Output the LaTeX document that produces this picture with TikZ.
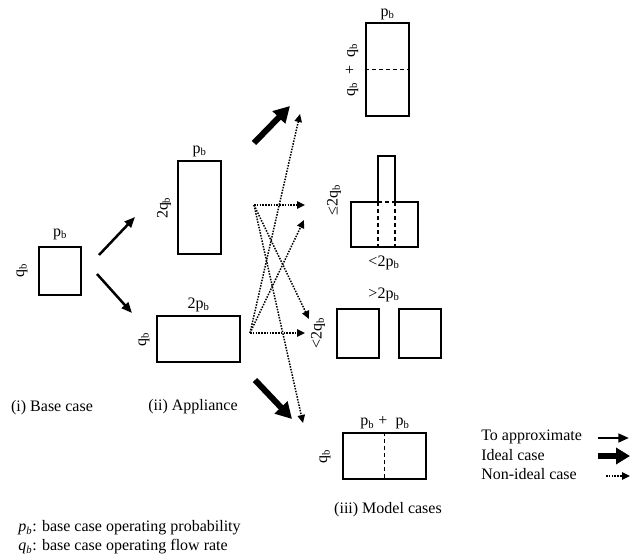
\documentclass[tikz,border=0pt]{standalone}
\usepackage{fontspec}
\setmainfont{Liberation Serif}
\usetikzlibrary{arrows.meta}
\newdimen\px \px=0.75pt
\newcommand\subb[1]{\textsubscript{#1}}
\begin{document}
\begin{tikzpicture}[x=0.75pt,y=-0.75pt,
  font=\fontsize{12}{14}\selectfont,
  box/.style={draw, line width=1.4\px, inner sep=0pt},
  lbl/.style={inner sep=0pt},
  rlbl/.style={inner sep=0pt, rotate=90},
  dashline/.style={line width=1.2\px, dash pattern=on 4\px off 3\px},
  thinarrow/.style={line width=2.5\px, -{Triangle[length=8pt,width=6.5pt]}},
  thickarrow/.style={line width=6\px, -{Triangle[length=12pt,width=12.75pt]}},
  dotarrow/.style={line width=1.5\px, dash pattern=on 1.5\px off 1.3\px, -{Triangle[length=6pt,width=5.5pt]}}
]
\useasboundingbox (0,0) rectangle (636,560);

% (i) base case
\node[box, minimum width=42\px, minimum height=48\px] (base) at (60,271) {};
\node[lbl] (basep) at (60,234) {p\subb{b}};
\node[rlbl] (baseq) at (22,270) {q\subb{b}};
\node[lbl] (basecap) at (52,408) {(i) Base case};

% (ii) appliance
\node[box, minimum width=43\px, minimum height=93\px] (tall) at (199.5,207.5) {};
\node[lbl] (tallp) at (199.5,151) {p\subb{b}};
\node[rlbl] (tallq) at (164,208) {2q\subb{b}};
\node[box, minimum width=83\px, minimum height=46\px] (wide) at (198.5,339) {};
\node[lbl] (widep) at (198.5,305) {2p\subb{b}};
\node[rlbl] (wideq) at (144,339) {q\subb{b}};
\node[lbl] (appcap) at (193,407) {(ii) Appliance};

% (iii) model cases
\node[box, minimum width=43\px, minimum height=93\px] (m1) at (387.5,69.5) {};
\draw[dashline] (m1.west) -- (m1.east);
\node[lbl] (m1p) at (387.5,14) {p\subb{b}};
\node[rlbl] (m1q) at (352,70) {q\subb{b}\ \ +\ \ q\subb{b}};

\coordinate (t1) at (378,202);
\coordinate (t2) at (378,156);
\coordinate (t3) at (395,156);
\coordinate (t4) at (395,202);
\coordinate (t5) at (418,202);
\coordinate (t6) at (418,247);
\coordinate (t7) at (351,247);
\coordinate (t8) at (351,202);
\draw[line width=1.4\px, line join=miter] (t1) -- (t2) -- (t3) -- (t4) -- (t5) -- (t6) -- (t7) -- (t8) -- cycle;
\draw[dashline] (t1) -- (t4);
\draw[dashline] (t1) -- (t1 |- t7);
\draw[dashline] (t4) -- (t4 |- t7);
\node[rlbl] (m2q) at (334,200) {≤2q\subb{b}};
\node[lbl] (m2p) at (384,263) {<2p\subb{b}};

\node[box, minimum width=42\px, minimum height=49\px] (m3a) at (358,333.5) {};
\node[box, minimum width=42\px, minimum height=49\px] (m3b) at (420,333.5) {};
\node[lbl] (m3p) at (384,295) {>2p\subb{b}};
\node[rlbl] (m3q) at (318,333) {<2q\subb{b}};

\node[box, minimum width=83\px, minimum height=46\px] (m4) at (384.5,456) {};
\draw[dashline] (m4.north) -- (m4.south);
\node[lbl] (m4p) at (385,423) {p\subb{b}\ +\ \ p\subb{b}};
\node[rlbl] (m4q) at (325,456) {q\subb{b}};
\node[lbl] (modcap) at (388,510) {(iii) Model cases};

% thin arrows (to approximate)
\coordinate (a1s) at (99,255);  \coordinate (a1e) at (135,217);
\coordinate (a2s) at (97,274);  \coordinate (a2e) at (132,313);
\draw[thinarrow] (a1s) -- (a1e);
\draw[thinarrow] (a2s) -- (a2e);

% thick arrows (ideal)
\coordinate (k1s) at (254,143); \coordinate (k1e) at (290,106);
\coordinate (k2s) at (255,380); \coordinate (k2e) at (292,419);
\draw[thickarrow] (k1s) -- (k1e);
\draw[thickarrow] (k2s) -- (k2e);

% dotted arrows (non-ideal)
\coordinate (o1) at (254,205);
\coordinate (o2) at (250,333);
\coordinate (e1) at (300,114);
\coordinate (e2) at (305,205);
\coordinate (e3) at (304,220);
\coordinate (e4) at (305,333);
\coordinate (e5) at (309,319);
\coordinate (e6) at (303,423);
\draw[dotarrow] (o1) -- (e2);
\draw[dotarrow] (o1) -- (e5);
\draw[dotarrow] (o1) -- (e6);
\draw[dotarrow] (o2) -- (e1);
\draw[dotarrow] (o2) -- (e3);
\draw[dotarrow] (o2) -- (e4);

% legend
\node[lbl, anchor=west] (lg1) at (481,437) {To approximate};
\node[lbl, anchor=west] (lg2) at (481,455) {Ideal case};
\node[lbl, anchor=west] (lg3) at (481,474) {Non-ideal case};
\coordinate (l1s) at (598,438); \coordinate (l1e) at (629,438);
\coordinate (l2s) at (598,456); \coordinate (l2e) at (630,456);
\coordinate (l3s) at (606,476); \coordinate (l3e) at (630,476);
\draw[thinarrow] (l1s) -- (l1e);
\draw[thickarrow, -{Triangle[length=10.5pt,width=12pt]}] (l2s) -- (l2e);
\draw[dotarrow] (l3s) -- (l3e);

% footnotes
\node[lbl, anchor=west] (fn1) at (18,528) {\textit{p\subb{b}}: base case operating probability};
\node[lbl, anchor=west] (fn2) at (18,547) {\textit{q\subb{b}}: base case operating flow rate};
\end{tikzpicture}
\end{document}
